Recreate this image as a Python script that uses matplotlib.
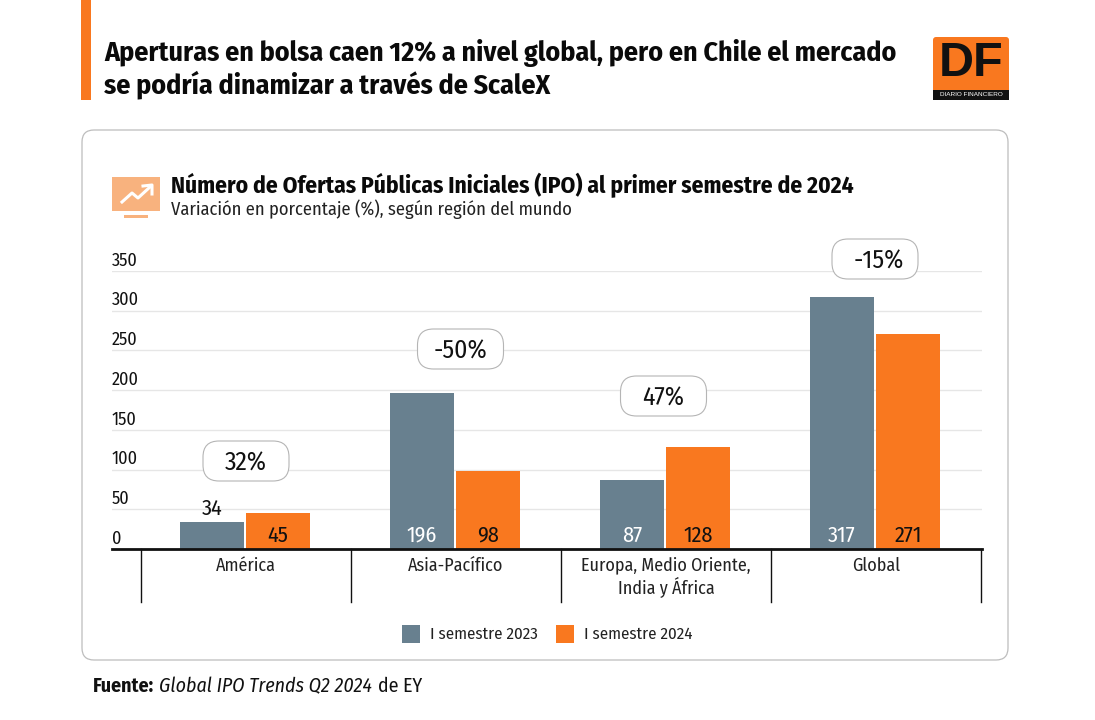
import matplotlib
matplotlib.use('Agg')
import matplotlib.pyplot as plt
from matplotlib.patches import FancyBboxPatch, Rectangle
import numpy as np

categories = ['América', 'Asia-Pacífico', 'Europa, Medio Oriente,\nIndia y África', 'Global']
values_2023 = [34, 196, 87, 317]
values_2024 = [45, 98, 128, 271]
changes = ['32%', '-50%', '47%', '-15%']
series_names = ['I semestre 2023', 'I semestre 2024']
yticks = [0, 50, 100, 150, 200, 250, 300, 350]

GRAY = '#68808f'
ORANGE = '#f9781f'
W, H = 1095, 720
plt.rcParams['font.family'] = ['Fira Sans Condensed', 'Roboto', 'DejaVu Sans']

fig = plt.figure(figsize=(W / 100, H / 100), dpi=100)

# overlay in pixel coordinates for the page furniture
bg = fig.add_axes([0, 0, 1, 1])
bg.set_xlim(0, W)
bg.set_ylim(H, 0)
bg.axis('off')

bg.add_patch(Rectangle((81, 0), 10, 100, color=ORANGE, lw=0))
bg.text(104, 53, 'Aperturas en bolsa caen 12% a nivel global, pero en Chile el mercado',
        fontsize=20.1, fontweight='bold', va='center', color='#0a0a0a')
bg.text(104, 85, 'se podría dinamizar a través de ScaleX',
        fontsize=20.1, fontweight='bold', va='center', color='#0a0a0a')

# logo
logo_font = ['Liberation Sans', 'DejaVu Sans']
bg.add_patch(FancyBboxPatch((933, 37), 76, 63, boxstyle='round,pad=0,rounding_size=3', fc=ORANGE, ec='none'))
bg.add_patch(Rectangle((933, 90), 76, 10, color='#111111', lw=0))
bg.text(971, 63, 'DF', fontsize=35, fontweight='bold', family=logo_font, ha='center', va='center', color='#111111')
bg.text(940, 95, 'DIARIO FINANCIERO', fontsize=4.6, family=logo_font, va='center', color='white')

# card
bg.add_patch(FancyBboxPatch((82, 130), 926, 530, boxstyle='round,pad=0,rounding_size=12',
                            fc='white', ec='#bdbdbd', lw=0.9))

# icon
bg.add_patch(Rectangle((112, 177), 48, 34, color='#f8b27e', lw=0))
bg.add_patch(Rectangle((124, 215), 24, 3, color='#f8b27e', lw=0))
bg.plot([122, 132, 138, 150], [202, 193, 198, 187], color='white', lw=2.2)
bg.plot([143, 152, 152], [186, 185, 194], color='white', lw=2.2)

bg.text(171, 185, 'Número de Ofertas Públicas Iniciales (IPO) al primer semestre de 2024',
        fontsize=16.9, fontweight='bold', va='center', color='#0a0a0a')
bg.text(171, 209, 'Variación en porcentaje (%), según región del mundo',
        fontsize=13.3, va='center', color='#222222')

# chart
ax = fig.add_axes([112 / W, 1 - 549 / H, 870 / W, 278 / H])
ax.patch.set_alpha(0)
ax.set_xlim(-134 / 210, 736 / 210)
ax.set_ylim(0, 350)
for s in ['top', 'left', 'right']:
    ax.spines[s].set_visible(False)
ax.spines['bottom'].set_linewidth(2)
ax.spines['bottom'].set_color('#111111')
ax.set_yticks(yticks)
ax.set_yticklabels([])
ax.tick_params(left=False, bottom=False)
ax.set_xticks([])
ax.grid(axis='y', color='#e6e6e6', lw=1)
ax.set_axisbelow(True)

x = np.arange(len(categories))
bw = 64 / 210
off_a = 34 / 210
off_b = 32 / 210
ax.bar(x - off_a, values_2023, bw, color=GRAY, label=series_names[0])
ax.bar(x + off_b, values_2024, bw, color=ORANGE, label=series_names[1])

for i, (a, b) in enumerate(zip(values_2023, values_2024)):
    if a < 40:
        ax.annotate(str(a), (x[i] - off_a, a), xytext=(0, 2), textcoords='offset points',
                    ha='center', va='bottom', fontsize=16, color='#111111')
    else:
        ax.annotate(str(a), (x[i] - off_a, 0), xytext=(0, 2), textcoords='offset points',
                    ha='center', va='bottom', fontsize=16, color='white')
    ax.annotate(str(b), (x[i] + off_b, 0), xytext=(0, 2), textcoords='offset points',
                ha='center', va='bottom', fontsize=16, color='#111111')

for v in yticks:
    ax.annotate(str(v), (0, v), xycoords=ax.get_yaxis_transform(), xytext=(0, 7.5),
                textcoords='offset points', ha='left', va='center', fontsize=13, color='#111111')

# category separators and labels, hanging below the axis
sep_trans = ax.get_xaxis_transform()
for edge in np.arange(len(categories) + 1) - 0.5:
    ax.plot([edge, edge], [0, -53 / 278], transform=sep_trans, color='#111111', lw=1, clip_on=False)
for i, c in enumerate(categories):
    ax.annotate(c, (x[i], 0), xycoords=sep_trans, xytext=(0, -5.5), textcoords='offset points',
                ha='center', va='top', fontsize=13, color='#222222', linespacing=1.15)

# change callouts, above the gridlines
top = fig.add_axes([0, 0, 1, 1])
top.set_xlim(0, W)
top.set_ylim(H, 0)
top.axis('off')
callout_x = [246, 460.5, 663.5, 875]
callout_y = [461, 349, 396, 259]
label_nudge = [0, 0, 0, 4]
for cx, cy, dx, label in zip(callout_x, callout_y, label_nudge, changes):
    top.add_patch(FancyBboxPatch((cx - 43, cy - 20), 86, 40, boxstyle='round,pad=0,rounding_size=16',
                                 fc='white', ec='#b5b5b5', lw=0.8))
    top.text(cx + dx, cy + 2, label, fontsize=18.5, ha='center', va='center', color='#111111')

# legend
for px, col, name in zip([402, 556], [GRAY, ORANGE], series_names):
    bg.add_patch(Rectangle((px, 625), 18, 18, color=col, lw=0))
    bg.text(px + 28, 634, name, fontsize=12.2, va='center', color='#222222')

# source
bg.text(93, 686, 'Fuente:', fontsize=14.3, fontweight='bold', va='center', color='#111111')
bg.text(159, 686, 'Global IPO Trends Q2 2024', fontsize=14.3, style='italic', va='center', color='#111111')
bg.text(378, 686, 'de EY', fontsize=14.3, va='center', color='#111111')

fig.savefig('out.png', dpi=100)
